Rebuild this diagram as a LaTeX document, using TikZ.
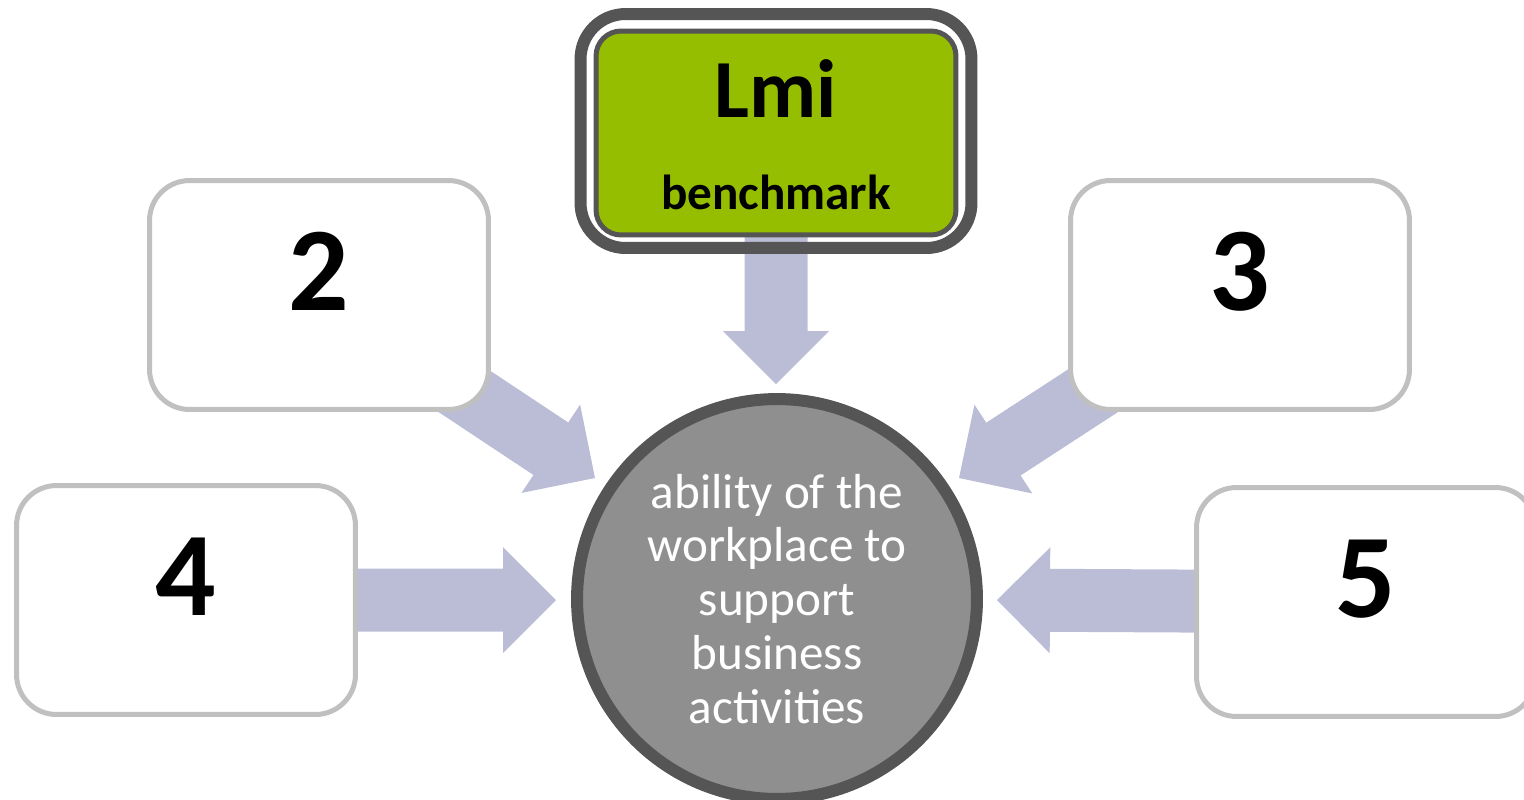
\documentclass[tikz,border=0pt]{standalone}
\usepackage{fontspec}
\setmainfont{Carlito}
\usetikzlibrary{calc}
\usetikzlibrary{backgrounds}

\definecolor{framegray}{RGB}{85,85,85}
\definecolor{boxgray}{RGB}{192,192,192}
\definecolor{lmigreen}{RGB}{149,190,0}
\definecolor{hubgray}{RGB}{143,143,143}
\definecolor{flowblue}{RGB}{187,189,214}

% fat arrow from #1 to the tip coordinate #2
\newcommand\blockarrow[2]{%
  \coordinate (#2-b) at ($(#2)!1.06cm!(#1)$);
  \fill[flow] ($(#1)!0.63cm!90:(#2)$) -- ($(#2-b)!0.63cm!90:(#2)$)
    -- ($(#2-b)!1.06cm!90:(#2)$) -- (#2) -- ($(#2-b)!1.06cm!-90:(#2)$)
    -- ($(#2-b)!0.63cm!-90:(#2)$) -- ($(#1)!0.63cm!-90:(#2)$) -- cycle;}

\begin{document}
\begin{tikzpicture}[x=0.02cm, y=-0.02cm,
    flow/.style={fill=flowblue},
    numbox/.style={draw=boxgray, line width=0.1cm, fill=white, rounded corners=0.8cm,
      minimum width=6.78cm, minimum height=4.58cm},
    num/.style={anchor=base, font=\fontsize{68}{72}\selectfont\bfseries}]
\useasboundingbox (0,0) rectangle (1524,799);

% top box
\node[draw=framegray, line width=0.24cm, rounded corners=0.9cm,
  minimum width=7.82cm, minimum height=4.68cm] (lmiframe) at (776,131) {};
\node[draw=framegray, fill=lmigreen, line width=0.1cm, rounded corners=0.5cm,
  minimum width=7.2cm, minimum height=4.08cm] (lmi) at (776,133) {};
\node[anchor=base, font=\fontsize{47}{50}\selectfont\bfseries] (lmititle) at ([yshift=0.32cm]lmi.center) {Lmi};
\node[anchor=base, font=\fontsize{28}{32}\selectfont\bfseries] (lmisub) at ([yshift=-1.54cm]lmi.center) {benchmark};

% side boxes
\node[numbox] (box2) at (319,295) {};
\node[numbox] (box3) at (1240,295) {};
\node[numbox] (box4) at (186,600) {};
\node[numbox] (box5) at (1366,602) {};
\node[num] (n2) at ([yshift=-0.3cm]box2.center) {2};
\node[num] (n3) at ([yshift=-0.3cm]box3.center) {3};
\node[num] (n4) at ([yshift=-0.3cm]box4.center) {4};
\node[num] (n5) at ([yshift=-0.3cm]box5.center) {5};

% hub
\node[circle, draw=framegray, line width=0.24cm, fill=hubgray, minimum size=8cm,
  text=white, align=center, font=\fontsize{28}{30.7}\selectfont] (hub) at (777,599)
  {ability of the\\workplace to\\support\\business\\activities};

% arrows
\coordinate (tipT) at (776,384);
\coordinate (tip2) at (595,478);
\coordinate (tip3) at (959,478);
\coordinate (tip4) at (556,600);
\coordinate (tip5) at (997,600);
\begin{pgfonlayer}{background}
\blockarrow{lmi.center}{tipT}
\blockarrow{box2.center}{tip2}
\blockarrow{box3.center}{tip3}
\blockarrow{box4.center}{tip4}
\blockarrow{box5.center}{tip5}
\end{pgfonlayer}
\end{tikzpicture}
\end{document}
